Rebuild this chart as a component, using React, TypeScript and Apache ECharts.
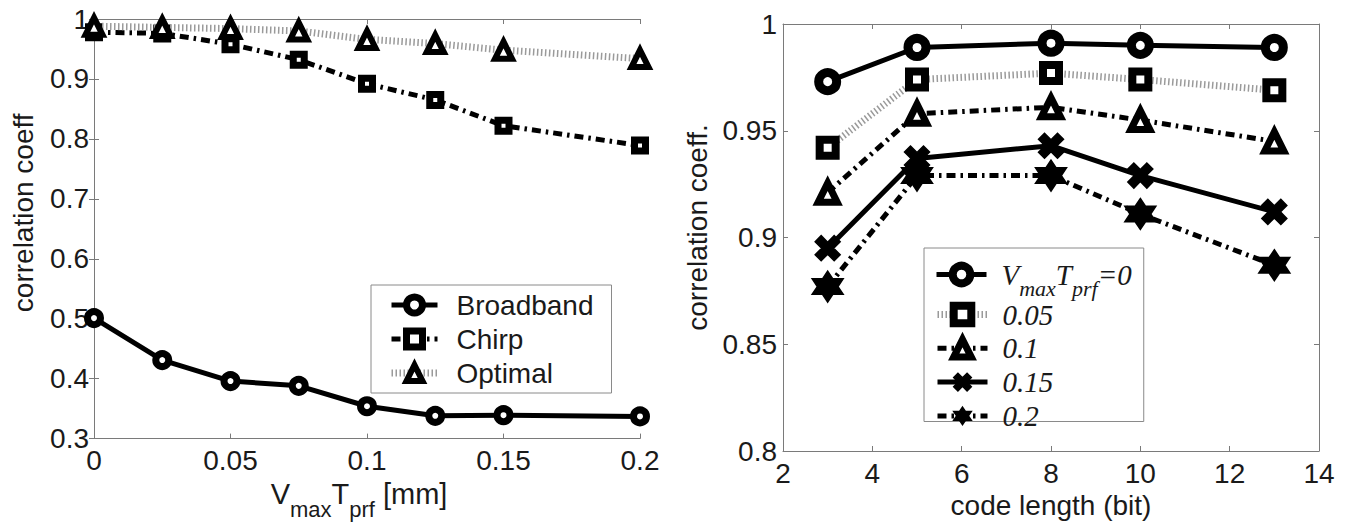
import { useEffect, useRef } from "react";
import * as echarts from "echarts";

// Left chart: correlation vs Vmax*Tprf
const vTprf = [0, 0.025, 0.05, 0.075, 0.1, 0.125, 0.15, 0.2];
const broadband = [0.501, 0.431, 0.396, 0.388, 0.354, 0.338, 0.339, 0.337];
const chirp = [0.978, 0.976, 0.958, 0.932, 0.892, 0.865, 0.822, 0.789];
const optimal = [0.988, 0.986, 0.984, 0.98, 0.966, 0.959, 0.948, 0.934];
const leftNames = ["Broadband", "Chirp", "Optimal"];

// Right chart: correlation vs code length
const codeLengths = [3, 5, 8, 10, 13];
const r0 = [0.973, 0.989, 0.991, 0.99, 0.989];
const r005 = [0.942, 0.974, 0.977, 0.974, 0.969];
const r01 = [0.921, 0.958, 0.961, 0.955, 0.945];
const r015 = [0.895, 0.937, 0.943, 0.929, 0.912];
const r02 = [0.877, 0.929, 0.929, 0.911, 0.887];
const rightNames = ["V_max T_prf=0", "0.05", "0.1", "0.15", "0.2"];

const SANS = "Liberation Sans";
const SERIF = "Liberation Serif";
const AXIS_GRAY = "#7a7a7a";
const TXT = "#1a1a1a";
const FS = 28;

const X_PATH =
  "path://M0,2.4 L2.4,0 L5,2.6 L7.6,0 L10,2.4 L7.4,5 L10,7.6 L7.6,10 L5,7.4 L2.4,10 L0,7.6 L2.6,5 Z";
const STAR_PATH =
  "path://M5,0 L6.44,2.5 L9.33,2.5 L7.89,5 L9.33,7.5 L6.44,7.5 L5,10 L3.56,7.5 L0.67,7.5 L2.11,5 L0.67,2.5 L3.56,2.5 Z";

const pairs = (xs: number[], ys: number[]) => xs.map((x, i) => [x, ys[i]]);

const SOLID = { color: "#000", width: 5, type: "solid" as const };
const DASHDOT = { color: "#000", width: 5, type: [9, 5, 2.5, 5] };
const DOTTED = { color: "#9a9a9a", width: 7, type: [1.5, 2.5] };

const hollow = (bw: number) => ({ color: "#fff", borderColor: "#000", borderWidth: bw });
const filled = { color: "#000", borderColor: "#000", borderWidth: 1.5 };

function mainAxis(extra: any) {
  return {
    axisLine: { show: true, lineStyle: { color: AXIS_GRAY, width: 1 } },
    axisTick: { show: true, inside: true, length: 5, lineStyle: { color: AXIS_GRAY } },
    splitLine: { show: false },
    axisLabel: { color: TXT, fontFamily: SANS, fontSize: FS, margin: 8 },
    nameTextStyle: { color: TXT, fontFamily: SANS, fontSize: FS },
    ...extra,
  };
}

function mirrorAxis(extra: any) {
  return {
    axisLine: { show: true, lineStyle: { color: AXIS_GRAY, width: 1 } },
    axisTick: { show: true, inside: true, length: 5, lineStyle: { color: AXIS_GRAY } },
    splitLine: { show: false },
    axisLabel: { show: false },
    ...extra,
  };
}

export default function App() {
  const ref = useRef<HTMLDivElement>(null);
  useEffect(() => {
    if (!ref.current) return;
    const chart = echarts.init(ref.current, undefined, { renderer: "svg" });

    const subRich = {
      n: { fontFamily: SANS, fontSize: 29, color: TXT, lineHeight: 30 },
      s: { fontFamily: SANS, fontSize: 22, color: TXT, lineHeight: 30, padding: [15, 0, -15, 0] },
    };

    const legendRich = {
      i: { fontFamily: SERIF, fontStyle: "italic", fontSize: 29, color: TXT, lineHeight: 22 },
      s: { fontFamily: SERIF, fontStyle: "italic", fontSize: 22, color: TXT, lineHeight: 18, padding: [14, 0, -14, 0] },
    };

    const leftLegendStyle: any = {
      Broadband: { itemStyle: hollow(7), lineStyle: SOLID },
      Chirp: { itemStyle: hollow(7), lineStyle: DASHDOT },
      Optimal: { itemStyle: hollow(6), lineStyle: DOTTED },
    };
    const rightLegendStyle: any[] = [
      { itemStyle: hollow(8), lineStyle: SOLID },
      { itemStyle: hollow(8), lineStyle: DOTTED },
      { itemStyle: hollow(7), lineStyle: DASHDOT },
      { itemStyle: filled, lineStyle: SOLID },
      { itemStyle: filled, lineStyle: DASHDOT },
    ];
    const rightLegendData = rightNames.map((n, i) => ({ name: n, ...rightLegendStyle[i] }));
    const rightLegendCommon = {
      orient: "vertical",
      itemWidth: 50, itemHeight: 22, itemGap: 4.8,
      formatter: (name: string) =>
        name.startsWith("V") ? "{i|V}{s|max}{i|T}{s|prf}{i|=0}" : "{i|" + name + "}",
      textStyle: { color: TXT, rich: legendRich, padding: [0, 0, 0, 10] },
    };

    const option: any = {
      animation: false,
      backgroundColor: "#fff",
      grid: [
        { left: 94, right: 1353 - 640, top: 19, bottom: 525 - 451, containLabel: false },
        { left: 783, right: 1353 - 1319, top: 24, bottom: 525 - 451, containLabel: false },
      ],
      xAxis: [
        mainAxis({
          type: "value", gridIndex: 0, position: "bottom", min: 0, max: 0.2, interval: 0.05,
          name: "{n|V}{s|max}{n|T}{s|prf}{n| [mm]}",
          nameLocation: "middle", nameGap: 23,
          nameTextStyle: { rich: subRich, padding: [0, 16, 0, 0] },
        }),
        mirrorAxis({ type: "value", gridIndex: 0, position: "top", min: 0, max: 0.2, interval: 0.05 }),
        mainAxis({
          type: "value", gridIndex: 1, position: "bottom", min: 2, max: 14, interval: 2,
          name: "code length (bit)", nameLocation: "middle", nameGap: 40,
        }),
        mirrorAxis({ type: "value", gridIndex: 1, position: "top", min: 2, max: 14, interval: 2 }),
      ],
      yAxis: [
        mainAxis({
          type: "value", gridIndex: 0, position: "left", min: 0.3, max: 1, interval: 0.1,
          axisLabel: { color: TXT, fontFamily: SANS, fontSize: FS, margin: 5 },
          name: "correlation coeff", nameLocation: "middle", nameGap: 57,
          nameTextStyle: { color: TXT, fontFamily: SANS, fontSize: FS, padding: [0, 0, 0, 32] },
        }),
        mirrorAxis({ type: "value", gridIndex: 0, position: "right", min: 0.3, max: 1, interval: 0.1 }),
        mainAxis({
          type: "value", gridIndex: 1, position: "left", min: 0.8, max: 1, interval: 0.05,
          axisLabel: { color: TXT, fontFamily: SANS, fontSize: FS, margin: 6 },
          name: "correlation coeff.", nameLocation: "middle", nameGap: 72,
          nameTextStyle: { color: TXT, fontFamily: SANS, fontSize: FS, padding: [0, 0, 0, 20] },
        }),
        mirrorAxis({ type: "value", gridIndex: 1, position: "right", min: 0.8, max: 1, interval: 0.05 }),
      ],
      legend: [
        {
          orient: "vertical", left: 371, top: 285,
          data: leftNames.map((n) => ({ name: n, ...leftLegendStyle[n] })),
          borderColor: "#8a8a8a", borderWidth: 1, borderRadius: 0,
          padding: [6, 18, 6, 17],
          itemWidth: 46, itemHeight: 20, itemGap: 6,
          textStyle: { color: TXT, fontFamily: SANS, fontSize: FS, lineHeight: 28, padding: [0, 0, 0, 14] },
        },
        {
          ...rightLegendCommon,
          left: 924, top: 248,
          data: rightLegendData.slice(0, 1),
          borderColor: "#8a8a8a", borderWidth: 1, borderRadius: 0,
          padding: [12, 12, 122, 10],
        },
        {
          ...rightLegendCommon,
          left: 934, top: 300,
          data: rightLegendData.slice(1),
          padding: 0,
        },
      ],
      series: [
        {
          name: "Broadband", type: "line", xAxisIndex: 0, yAxisIndex: 0,
          data: pairs(vTprf, broadband), symbol: "circle", symbolSize: 13,
          lineStyle: SOLID, itemStyle: hollow(7), z: 3,
        },
        {
          name: "Chirp", type: "line", xAxisIndex: 0, yAxisIndex: 0,
          data: pairs(vTprf, chirp), symbol: "rect", symbolSize: 11,
          lineStyle: DASHDOT, itemStyle: hollow(7), z: 2,
        },
        {
          name: "Optimal", type: "line", xAxisIndex: 0, yAxisIndex: 0,
          data: pairs(vTprf, optimal), symbol: "triangle", symbolSize: 17,
          lineStyle: DOTTED, itemStyle: hollow(6), z: 4,
        },
        {
          name: rightNames[0], type: "line", xAxisIndex: 2, yAxisIndex: 2,
          data: pairs(codeLengths, r0), symbol: "circle", symbolSize: 18,
          lineStyle: SOLID, itemStyle: hollow(9),
        },
        {
          name: rightNames[1], type: "line", xAxisIndex: 2, yAxisIndex: 2,
          data: pairs(codeLengths, r005), symbol: "rect", symbolSize: 16,
          lineStyle: DOTTED, itemStyle: hollow(8),
        },
        {
          name: rightNames[2], type: "line", xAxisIndex: 2, yAxisIndex: 2,
          data: pairs(codeLengths, r01), symbol: "triangle", symbolSize: 19,
          lineStyle: DASHDOT, itemStyle: hollow(7),
        },
        {
          name: rightNames[3], type: "line", xAxisIndex: 2, yAxisIndex: 2,
          data: pairs(codeLengths, r015), symbol: X_PATH, symbolSize: 25,
          lineStyle: SOLID, itemStyle: filled,
        },
        {
          name: rightNames[4], type: "line", xAxisIndex: 2, yAxisIndex: 2,
          data: pairs(codeLengths, r02), symbol: STAR_PATH, symbolSize: 31,
          lineStyle: DASHDOT, itemStyle: filled,
        },
      ],
    };

    chart.setOption(option);
    return () => chart.dispose();
  }, []);

  return (
    <div
      ref={ref}
      style={{ position: "absolute", left: 0, top: 0, width: 1353, height: 525, background: "#fff" }}
    />
  );
}
